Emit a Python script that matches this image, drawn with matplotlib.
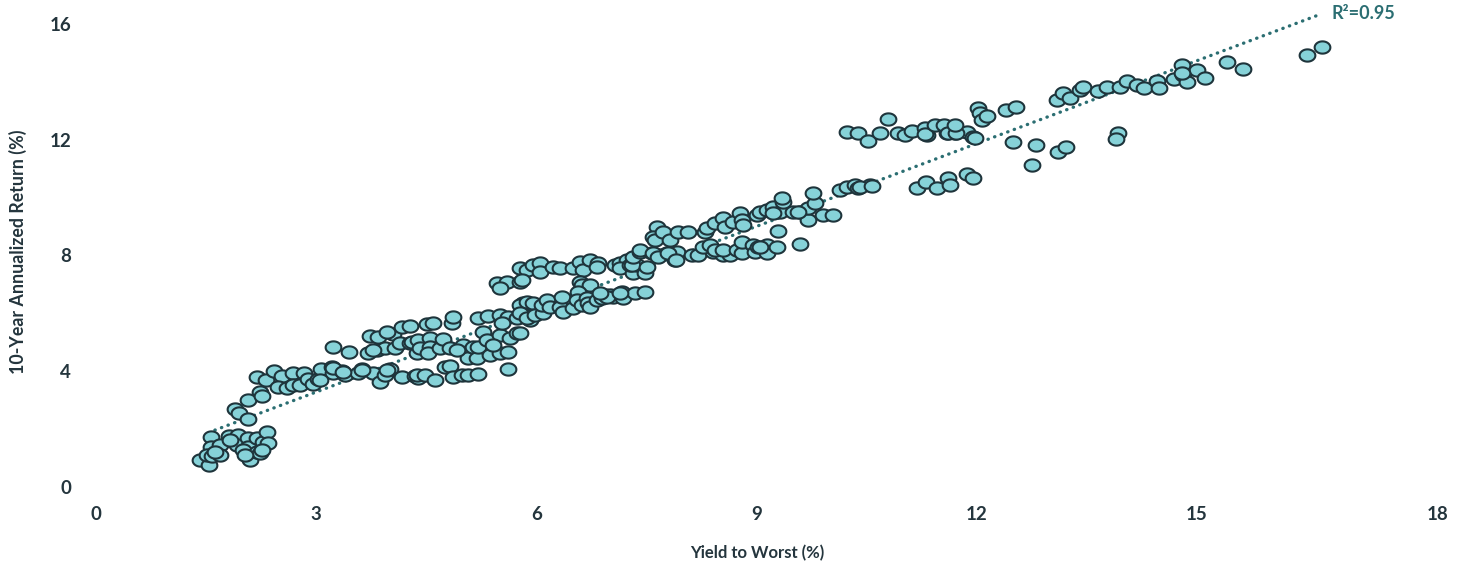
import numpy as np
import matplotlib
matplotlib.use("Agg")
import matplotlib.pyplot as plt
import matplotlib.path as mpath
import matplotlib.transforms as mtransforms

# ---------------- data ----------------
# each cluster: (yield to worst %, 10-year annualized return %)
cl_a_x = [1.42, 1.54, 1.57, 1.57, 1.51, 1.58, 1.69, 1.69, 1.81, 1.93, 1.92, 2.07, 2.07, 2.00, 2.10,
          2.19, 2.19, 2.28, 2.33, 2.34, 2.23, 1.83, 2.26, 2.03, 1.62]
cl_a_y = [0.93, 0.76, 1.73, 1.38, 1.11, 1.07, 1.45, 1.11, 1.76, 1.80, 1.45, 1.69, 1.38, 1.28, 0.93,
          1.69, 1.21, 1.55, 1.90, 1.52, 1.17, 1.62, 1.28, 1.11, 1.21]

cl_b_x = [1.89, 1.95, 2.07, 2.07, 2.23, 2.26]
cl_b_y = [2.70, 2.56, 2.35, 3.01, 3.28, 3.14]

cl_c_x = [2.19, 2.32, 2.43, 2.53, 2.48, 2.60, 2.68, 2.68, 2.78, 2.83, 2.89, 2.96, 3.02, 3.07, 3.22,
          3.23, 3.35, 3.39, 3.57, 3.62, 3.77, 3.87, 3.94, 4.01, 4.17, 4.35, 4.39, 3.05, 3.23, 3.37,
          3.62, 3.96, 4.37, 4.48, 4.62, 4.75, 4.82, 4.86, 4.99, 5.07, 5.20, 5.61]
cl_c_y = [3.80, 3.70, 4.01, 3.84, 3.46, 3.42, 3.94, 3.52, 3.52, 3.94, 3.73, 3.56, 3.73, 4.08, 4.15,
          3.94, 4.01, 3.87, 3.94, 4.08, 3.94, 3.63, 3.87, 4.08, 3.80, 3.84, 3.77, 3.70, 4.11, 3.97,
          4.04, 4.04, 3.87, 3.87, 3.70, 4.15, 4.18, 3.80, 3.87, 3.87, 3.90, 4.08]

cl_d_x = [3.23, 3.45, 3.71, 3.73, 3.84, 3.83, 3.94, 4.05, 4.07, 4.14, 4.28, 4.37, 3.96, 4.17, 4.28,
          3.77, 4.31, 4.39, 4.55, 4.41, 4.55, 4.52, 4.69, 4.73, 4.82, 4.51, 4.59, 4.85, 4.86, 5.00,
          5.05, 5.07, 5.14, 5.19, 5.20, 5.27, 5.33, 5.37, 5.50, 5.61, 5.50, 5.64, 5.74, 5.20, 5.34,
          5.50, 5.61, 5.74, 5.53, 4.92, 5.41]
cl_d_y = [4.84, 4.66, 4.63, 5.22, 5.18, 4.73, 4.80, 5.29, 4.80, 4.98, 4.98, 4.63, 5.36, 5.53, 5.56,
          4.73, 5.01, 5.08, 5.15, 4.80, 4.84, 4.63, 4.80, 5.11, 4.80, 5.63, 5.67, 5.67, 5.87, 4.91,
          4.66, 4.46, 4.84, 4.46, 4.84, 5.36, 5.08, 4.56, 4.63, 4.66, 5.25, 5.15, 5.32, 5.84, 5.91,
          5.94, 5.87, 5.84, 5.67, 4.73, 4.91]

cl_e_x = [5.82, 5.87, 5.95, 5.91, 5.46, 5.60, 5.78, 5.50]
cl_e_y = [6.36, 6.05, 6.29, 5.77, 7.05, 7.08, 7.08, 6.88]

cl_f_x = [5.78, 5.87, 5.95, 6.05, 6.05, 6.23, 6.32, 6.50, 6.59, 6.63, 6.73, 6.84, 6.83, 7.07, 7.14,
          7.23, 7.14, 7.32, 7.37, 7.48, 7.48, 7.28, 5.80, 7.30, 7.51]
cl_f_y = [7.57, 7.50, 7.67, 7.74, 7.43, 7.60, 7.57, 7.57, 7.77, 7.50, 7.84, 7.74, 7.60, 7.67, 7.74,
          7.84, 7.57, 7.39, 7.67, 7.57, 7.39, 7.67, 7.15, 7.67, 7.60]

cl_g_x = [7.32, 7.41, 7.57, 7.68, 7.78, 7.89, 7.92, 8.12, 8.20, 8.41, 8.54, 8.64, 7.41, 7.59, 7.66,
          7.79, 7.90, 8.27, 8.37, 8.43, 8.54, 8.73, 8.80, 8.80, 8.95, 8.98, 9.02, 9.14, 9.14, 9.28,
          9.05, 9.29, 9.59]
cl_g_y = [7.95, 8.12, 8.09, 8.02, 8.09, 7.84, 8.12, 8.02, 8.02, 8.12, 8.02, 8.02, 8.19, 8.09, 7.95,
          8.09, 7.84, 8.29, 8.36, 8.19, 8.19, 8.19, 8.09, 8.47, 8.36, 8.12, 8.29, 8.36, 8.09, 8.29,
          8.29, 8.85, 8.40]

cl_h_x = [7.64, 7.59, 7.62, 7.72, 7.82, 7.93, 8.07, 8.30, 8.32, 8.43, 8.54, 8.57, 8.68, 8.77, 8.80,
          8.81, 9.01, 9.05, 9.14, 9.22, 9.32, 9.36, 9.50, 9.59, 9.70, 9.70, 9.80, 9.35, 9.77, 9.90,
          10.04, 9.22, 9.56]
cl_h_y = [8.98, 8.64, 8.54, 8.81, 8.54, 8.81, 8.81, 8.81, 8.95, 9.12, 9.30, 8.98, 9.16, 9.47, 9.23,
          9.05, 9.40, 9.50, 9.57, 9.68, 9.50, 9.85, 9.50, 9.50, 9.23, 9.64, 9.81, 9.99, 10.16, 9.40,
          9.40, 9.47, 9.50]

cl_i_x = [10.14, 10.23, 10.34, 10.38, 10.54, 10.41, 10.57, 11.19, 11.31, 11.46, 11.61, 11.63, 11.87, 11.95]
cl_i_y = [10.26, 10.37, 10.44, 10.33, 10.44, 10.37, 10.40, 10.33, 10.54, 10.33, 10.68, 10.44, 10.82, 10.68]

cl_j_x = [10.23, 10.38, 10.52, 10.68, 10.93, 11.02, 11.32, 11.59, 11.70, 11.87, 11.95, 10.79, 11.12,
          11.29, 11.29, 11.43, 11.55, 11.61, 11.72, 11.98, 11.70]
cl_j_y = [12.27, 12.23, 11.96, 12.23, 12.23, 12.16, 12.16, 12.23, 12.23, 12.27, 12.09, 12.72, 12.30,
          12.41, 12.20, 12.51, 12.51, 12.23, 12.23, 12.06, 12.51]

cl_k_x = [12.02, 12.04, 12.07, 12.14, 12.40, 12.53]
cl_k_y = [13.10, 12.92, 12.68, 12.82, 13.03, 13.13]

cl_l_x = [12.49, 12.81, 13.11, 13.22, 12.75, 13.92, 13.90]
cl_l_y = [11.92, 11.82, 11.58, 11.75, 11.13, 12.23, 12.02]

cl_m_x = [13.09, 13.17, 13.27, 13.41, 13.45, 13.65, 13.77, 13.95, 14.05, 14.18, 14.28, 14.46, 14.48,
          14.69, 14.80, 14.81, 14.86, 15.00, 15.11, 14.80, 15.41, 15.63, 16.50, 16.70]
cl_m_y = [13.37, 13.61, 13.44, 13.72, 13.82, 13.68, 13.82, 13.82, 14.03, 13.89, 13.79, 14.03, 13.79,
          14.10, 14.58, 14.24, 13.99, 14.41, 14.13, 14.31, 14.69, 14.44, 14.93, 15.20]

cl_p_x = [6.59, 6.62, 6.73, 6.57, 5.78, 5.87, 5.95, 5.78, 5.87, 5.98, 6.09, 6.08, 6.14, 6.19, 6.32,
          6.35, 6.36, 6.50, 6.55, 6.62, 6.69, 6.70, 6.73, 6.83, 6.89, 6.93, 7.00, 7.04, 7.17, 7.18,
          7.34, 7.48, 5.78, 6.96, 7.14, 6.87]
cl_p_y = [7.08, 6.98, 6.98, 6.74, 6.29, 6.39, 6.36, 6.01, 5.84, 5.94, 6.01, 6.29, 6.46, 6.22, 6.22,
          6.57, 6.05, 6.19, 6.46, 6.29, 6.53, 6.36, 6.22, 6.46, 6.53, 6.63, 6.63, 6.57, 6.74, 6.53,
          6.70, 6.74, 5.32, 6.57, 6.70, 6.70]

# trend line
trend_x = [1.62, 16.68]
trend_slope = 0.954
trend_intercept = 0.42
r2_label = "R²=0.95"

x_ticks = [0, 3, 6, 9, 12, 15, 18]
y_ticks = [0, 4, 8, 12, 16]
x_label = "Yield to Worst (%)"
y_label = "10-Year Annualized Return (%)"

# ---------------- plotting ----------------
xs = np.concatenate([cl_a_x, cl_b_x, cl_c_x, cl_d_x, cl_e_x, cl_f_x, cl_g_x, cl_h_x,
                     cl_i_x, cl_j_x, cl_k_x, cl_l_x, cl_m_x, cl_p_x])
ys = np.concatenate([cl_a_y, cl_b_y, cl_c_y, cl_d_y, cl_e_y, cl_f_y, cl_g_y, cl_h_y,
                     cl_i_y, cl_j_y, cl_k_y, cl_l_y, cl_m_y, cl_p_y])

plt.rcParams['font.family'] = ['Lato', 'DejaVu Sans']

W, H = 1465, 568
fig = plt.figure(figsize=(W / 100, H / 100), dpi=100)
ax = fig.add_axes([96 / W, (H - 487) / H, (1417 - 96) / W, (487 - 24) / H])

# ellipse marker (wider than tall)
t = np.linspace(0, 2 * np.pi, 60)
ell = mpath.Path(np.column_stack([np.cos(t), 0.78 * np.sin(t)]), closed=True)

face = "#86D2D8"
edge = "#1E343B"
teal = "#2B6E72"
text_col = "#24353D"

ax.scatter(xs, ys, s=128, marker=ell, facecolor=face, edgecolor=edge,
           linewidths=1.5, zorder=3, clip_on=False)

tx = np.array(trend_x)
ax.plot(tx, trend_slope * tx + trend_intercept, color=teal, lw=2.4,
        linestyle=(0, (0.1, 2.0)), dash_capstyle='round', zorder=2, clip_on=False)
ax.text(16.84, 16.35, r2_label, color=teal, fontsize=13, fontweight='bold',
        ha='left', va='center')

ax.set_xlim(0, 18)
ax.set_ylim(0, 16)
ax.set_xticks(x_ticks)
ax.set_yticks(y_ticks)
ax.set_xticklabels([str(v) for v in x_ticks])
ax.set_yticklabels([str(v) for v in y_ticks])
for s in ax.spines.values():
    s.set_visible(False)
ax.tick_params(length=0, labelsize=13.5, labelcolor=text_col, pad=14)
ax.tick_params(axis='y', pad=18)
for lab in ax.get_xticklabels() + ax.get_yticklabels():
    lab.set_fontweight('bold')
# the last x tick label sits a little right of its tick in the reference
last = ax.get_xticklabels()[-1]
last.set_transform(last.get_transform() + mtransforms.ScaledTranslation(0.21, 0, fig.dpi_scale_trans))

fig.text(757 / W, 1 - 553 / H, x_label, ha='center', va='center', fontsize=12,
         fontweight='bold', color=text_col)
fig.text(18 / W, 1 - 252 / H, y_label, ha='center', va='center', rotation=90,
         fontsize=12.8, fontweight='bold', color=text_col)

fig.savefig("out.png", dpi=100, facecolor='white')
